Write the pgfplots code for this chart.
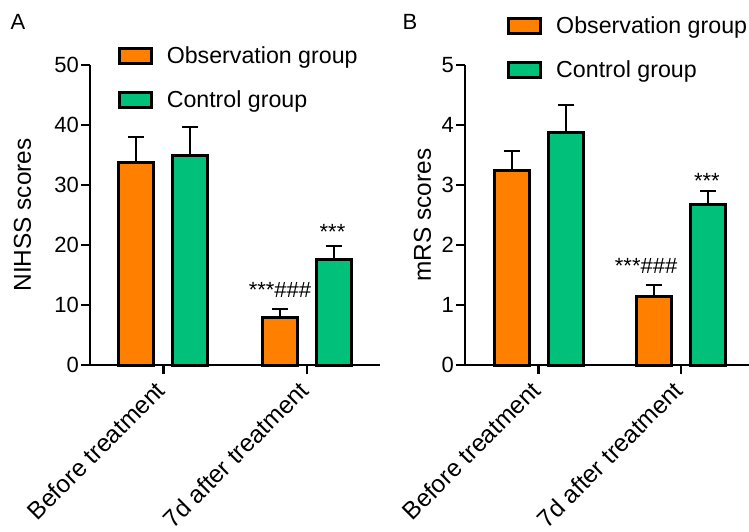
\documentclass[border=0pt]{standalone}
\usepackage{fontspec}
\setmainfont{Liberation Sans}
\usepackage{pgfplots}
\pgfplotsset{compat=1.18}
\definecolor{obs}{RGB}{255,128,0}
\definecolor{ctl}{RGB}{0,192,122}
\pgfplotsset{
  /pgfplots/ybar legend/.style={/pgfplots/legend image code/.code={\draw[##1,line width=3pt] (0pt,-7.5pt) rectangle (32pt,7.5pt);}},
  panel/.style={
    scale only axis, height=300pt,
    axis x line*=bottom, axis y line*=left,
    axis line style={line width=2.6pt, black},
    ymin=0, enlargelimits=false, clip=false,
    xtick={0,1}, xticklabels={Before treatment,7d after treatment},
    tick align=outside, major tick length=9pt,
    major tick style={line width=2.2pt, black},
    ybar=19pt, bar width=35pt,
    tick label style={font=\fontsize{22}{26}\selectfont},
    x tick label style={rotate=45, anchor=north east, inner sep=0pt, font=\fontsize{24.5}{28}\selectfont, xshift=-10.4pt, yshift=2.6pt},
    y tick label style={inner sep=2pt},
    /pgf/number format/assume math mode=true,
    legend cell align=left,
    legend style={draw=none, fill=none, anchor=north west, font=\fontsize{23.2}{27}\selectfont, row sep=22pt, inner sep=0pt,
      /tikz/every odd column/.append style={column sep=12pt}},
  },
  ebar/.style={error bars/.cd, y dir=plus, y explicit,
    error bar style={line width=2pt, black},
    error mark options={rotate=90, mark size=8pt, line width=2pt, black}},
}
\begin{document}
\begin{tikzpicture}
\path[use as bounding box, clip] (0,0) rectangle (749pt,531pt);
\node[font=\fontsize{22}{26}\selectfont] at (18pt,509pt) {A};
\node[font=\fontsize{22}{26}\selectfont] at (410pt,509pt) {B};
% Panel A
\begin{axis}[panel, at={(90pt,166pt)}, anchor=south west, width=290pt,
  xmin=-0.512, xmax=1.509, ymax=50, ytick={0,10,20,30,40,50},
  ylabel={NIHSS scores},
  every axis y label/.style={at={(rel axis cs:0,0.5)}, xshift=-67.5pt, rotate=90, anchor=center, font=\fontsize{24.4}{28}\selectfont},
  legend style={at={(axis description cs:0.095,1.068)}}]
\addplot[fill=obs, draw=black, line width=3pt, ebar] coordinates {(0,33.8) +- (0,4.25) (1,7.9) +- (0,1.4)};
\addplot[fill=ctl, draw=black, line width=3pt, ebar] coordinates {(0,34.9) +- (0,4.8) (1,17.6) +- (0,2.2)};
\legend{Observation group, Control group}
\draw[line width=2.6pt] (rel axis cs:0,0) -- ++(-8pt,0pt);
\node[font=\fontsize{22}{26}\selectfont, anchor=base] at (axis cs:0.812,11.17) {***\#\#\#};
\node[font=\fontsize{22}{26}\selectfont, anchor=base] at (axis cs:1.178,21) {***};
\end{axis}
% Panel B
\begin{axis}[panel, at={(465pt,166pt)}, anchor=south west, width=284pt,
  xmin=-0.516, xmax=1.477, ymax=5, ytick={0,1,2,3,4,5},
  ylabel={mRS scores},
  every axis y label/.style={at={(rel axis cs:0,0.5)}, xshift=-42.5pt, rotate=90, anchor=center, font=\fontsize{24.4}{28}\selectfont},
  legend style={at={(axis description cs:0.148,1.168)}}]
\addplot[fill=obs, draw=black, line width=3pt, ebar] coordinates {(0,3.24) +- (0,0.32) (1,1.15) +- (0,0.18)};
\addplot[fill=ctl, draw=black, line width=3pt, ebar] coordinates {(0,3.87) +- (0,0.46) (1,2.68) +- (0,0.22)};
\legend{Observation group, Control group}
\draw[line width=2.6pt] (rel axis cs:0,0) -- ++(-9pt,0pt);
\node[font=\fontsize{22}{26}\selectfont, anchor=base] at (axis cs:0.755,1.53) {***\#\#\#};
\node[font=\fontsize{22}{26}\selectfont, anchor=base] at (axis cs:1.182,2.95) {***};
\end{axis}
\end{tikzpicture}
\end{document}
